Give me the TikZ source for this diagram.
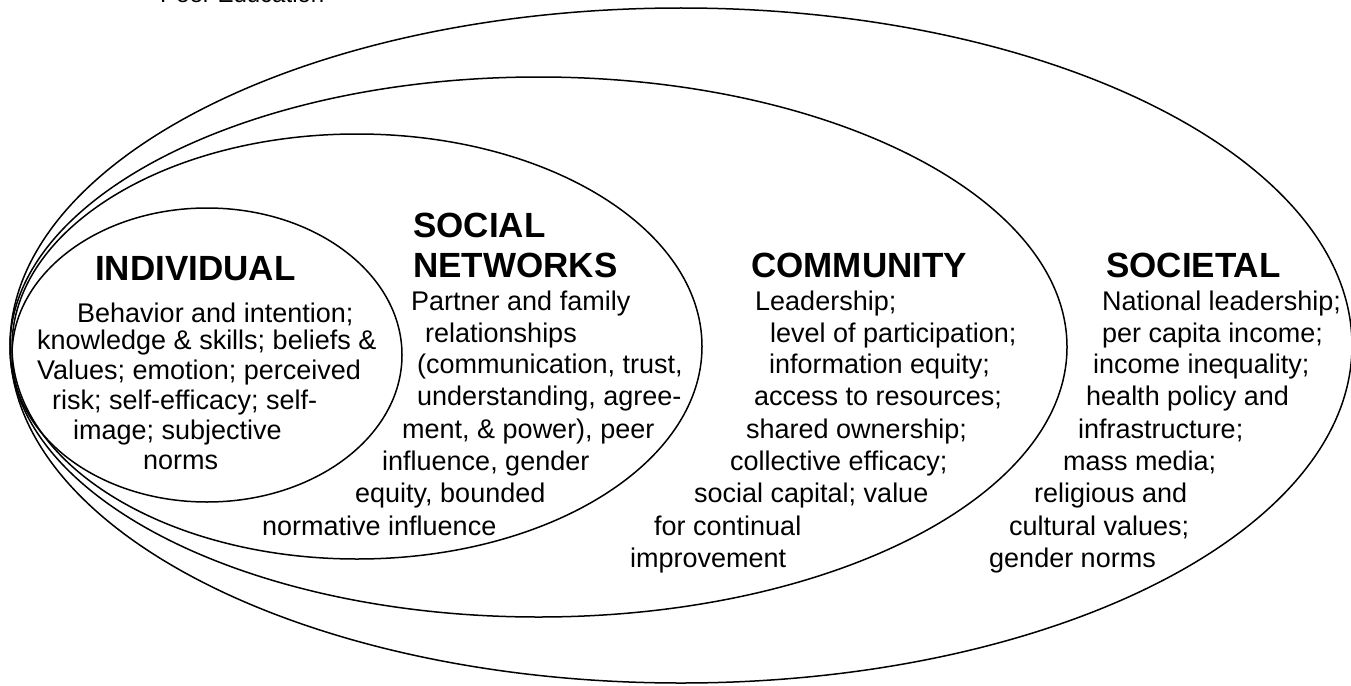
\documentclass[tikz,border=0pt]{standalone}
\usepackage{fontspec}
\setmainfont{Liberation Sans}
\usetikzlibrary{shapes.geometric}
\begin{document}
\begin{tikzpicture}[x=1pt,y=-1pt,
  ring/.style={draw=black, line width=1.5pt, ellipse, inner sep=0pt, outer sep=0pt},
  txt/.style={anchor=base west, inner sep=0pt, font=\fontsize{27}{32}\selectfont},
  head/.style={anchor=base west, inner sep=0pt, font=\fontsize{35}{40}\selectfont\bfseries},
  note/.style={anchor=base west, inner sep=0pt, font=\fontsize{24}{28}\selectfont}]
\useasboundingbox (0,0) rectangle (1351,685);
% rings
\node[ring, minimum width=1342pt, minimum height=675pt] (societal) at (681,345.5) {};
\node[ring, minimum width=1057pt, minimum height=540pt] (community) at (538.5,347) {};
\node[ring, minimum width=690pt, minimum height=425pt] (social) at (357,346.5) {};
\node[ring, minimum width=390pt, minimum height=294pt] (individual) at (207,355) {};
% cut-off note
\node[note] (peer) at (160,3) {Peer Education};
% INDIVIDUAL
\node[head] (hi) at (95,280) {INDIVIDUAL};
\node[txt] (i1) at (77,322) {Behavior and intention;};
\node[txt] (i2) at (37,349) {knowledge \& skills; beliefs \&};
\node[txt] (i3) at (37,379) {Values; emotion; perceived};
\node[txt] (i4) at (52,409) {risk; self-efficacy; self-};
\node[txt] (i5) at (73,439) {image; subjective};
\node[txt] (i6) at (143,469) {norms};
% SOCIAL NETWORKS
\node[head] (hs1) at (413,237) {SOCIAL};
\node[head] (hs2) at (413,277) {NETWORKS};
\node[txt] (s1) at (411,310) {Partner and family};
\node[txt] (s2) at (425,342) {relationships};
\node[txt] (s3) at (417,373) {(communication, trust,};
\node[txt] (s4) at (417,405) {understanding, agree-};
\node[txt] (s5) at (402,438) {ment, \& power), peer};
\node[txt] (s6) at (382,470) {influence, gender};
\node[txt] (s7) at (355,502) {equity, bounded};
\node[txt] (s8) at (262,535) {normative influence};
% COMMUNITY
\node[head] (hc) at (751,277) {COMMUNITY};
\node[txt] (c1) at (755,310) {Leadership;};
\node[txt] (c2) at (770,342) {level of participation;};
\node[txt] (c3) at (769,373) {information equity;};
\node[txt] (c4) at (754,405) {access to resources;};
\node[txt] (c5) at (746,438) {shared ownership;};
\node[txt] (c6) at (730,470) {collective efficacy;};
\node[txt] (c7) at (694,502) {social capital; value};
\node[txt] (c8) at (654,535) {for continual};
\node[txt] (c9) at (630,567) {improvement};
% SOCIETAL
\node[head] (ht) at (1106,277) {SOCIETAL};
\node[txt] (t1) at (1102,310) {National leadership;};
\node[txt] (t2) at (1102,342) {per capita income;};
\node[txt] (t3) at (1093,373) {income inequality;};
\node[txt] (t4) at (1086,405) {health policy and};
\node[txt] (t5) at (1078,438) {infrastructure;};
\node[txt] (t6) at (1063,470) {mass media;};
\node[txt] (t7) at (1034,502) {religious and};
\node[txt] (t8) at (1009,535) {cultural values;};
\node[txt] (t9) at (989,567) {gender norms};
\end{tikzpicture}
\end{document}
